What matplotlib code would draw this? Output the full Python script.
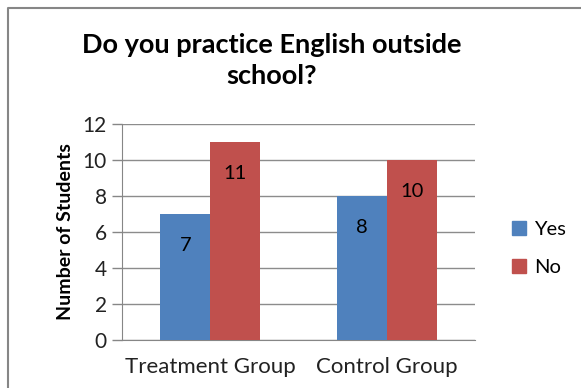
import matplotlib
matplotlib.use("Agg")
import matplotlib.pyplot as plt
from matplotlib.lines import Line2D
from matplotlib.patches import Patch
import numpy as np

plt.rcParams['font.family'] = ['Lato', 'DejaVu Sans']

groups = ['Treatment Group', 'Control Group']
yes_counts = [7, 8]
no_counts = [11, 10]
series_names = ['Yes', 'No']
series_colors = ['#4F81BD', '#C0504D']
yticks = [0, 2, 4, 6, 8, 10, 12]

fig = plt.figure(figsize=(5.81, 3.88), dpi=100)
ax = fig.add_axes([0.21, 0.1237, 0.6076, 0.5567])

x = np.arange(len(groups))
w = 0.283
bars_yes = ax.bar(x - w / 2, yes_counts, w, color=series_colors[0], zorder=3)
bars_no = ax.bar(x + w / 2, no_counts, w, color=series_colors[1], zorder=3)

# value labels sit just inside the top of each bar
for bars, vals in ((bars_yes, yes_counts), (bars_no, no_counts)):
    for b, v in zip(bars, vals):
        ax.annotate(str(v), (b.get_x() + b.get_width() / 2, v),
                    xytext=(0, -23), textcoords='offset points',
                    ha='center', va='center', fontsize=14.5, color='black', zorder=4)

ax.set_xlim(-0.5, 1.5)
ax.set_ylim(0, 12)
ax.set_yticks(yticks)
ax.set_xticks(x)
ax.set_xticklabels(groups, fontsize=16, color='#222222')
ax.tick_params(axis='x', length=0, pad=12)
ax.tick_params(axis='y', length=7, width=1, color='#868686', labelsize=15, pad=4)
for lbl in ax.get_yticklabels():
    lbl.set_color('#222222')

ax.grid(axis='y', color='#8c8c8c', linewidth=1, zorder=0)
for side in ('top', 'right'):
    ax.spines[side].set_visible(False)
ax.spines['left'].set_color('#868686')
ax.spines['bottom'].set_color('#868686')

ax.set_ylabel('Number of Students', fontsize=14, fontweight='bold', labelpad=6)

fig.text(0.467, 0.845, 'Do you practice English outside\nschool?', ha='center', va='center',
         fontsize=19.5, fontweight='bold', linespacing=1.35)

handles = [Patch(color=c, label=n) for c, n in zip(series_colors, series_names)]
fig.legend(handles=handles, loc='center left', bbox_to_anchor=(0.85, 0.36),
           frameon=False, fontsize=14.5, handlelength=0.7, handleheight=0.7,
           handletextpad=0.4, labelspacing=1.05)

# chart frame, left and top edges
fig.add_artist(Line2D([8 / 581, 8 / 581, 1.0], [0.0, 1 - 8 / 388, 1 - 8 / 388],
                      transform=fig.transFigure, color='#868686', linewidth=1.5))

fig.savefig('out.png', dpi=100)
